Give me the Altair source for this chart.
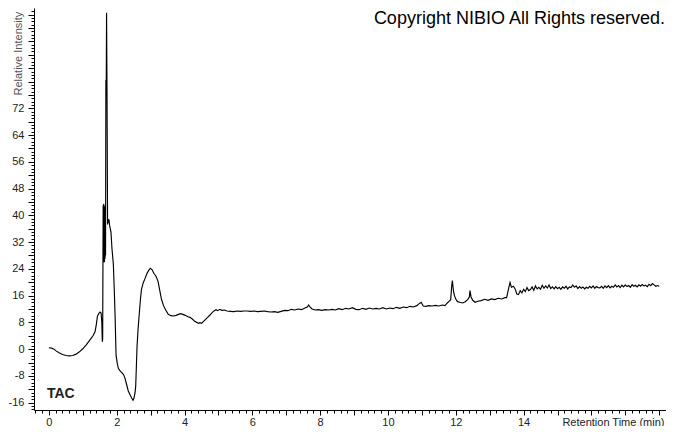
import altair as alt
import pandas as pd

# ---- data (retention time [min], relative intensity) ----
TRACE_START = [
    (0.00, 0.4), (0.08, 0.3), (0.15, 0.0), (0.22, -0.6), (0.30, -1.1), (0.40, -1.6),
    (0.50, -1.9), (0.60, -2.0), (0.70, -1.9), (0.80, -1.5), (0.90, -0.8), (1.00, 0.1),
    (1.10, 1.3), (1.20, 2.6), (1.30, 4.0), (1.36, 5.2), (1.40, 7.5), (1.43, 9.8),
    (1.47, 10.6), (1.51, 11.1), (1.54, 10.8), (1.56, 8.0), (1.575, 2.2), (1.585, 3.0),
]
TRACE_MAIN_PEAK = [
    (1.600, 43.0), (1.610, 26.0), (1.615, 43.5), (1.625, 26.5), (1.630, 43.0),
    (1.640, 26.0), (1.645, 42.5), (1.655, 27.0), (1.660, 41.0), (1.670, 28.0),
    (1.680, 80.5), (1.690, 76.0), (1.700, 100.6), (1.715, 73.5), (1.730, 37.3),
    (1.745, 39.0), (1.760, 37.8), (1.770, 38.8), (1.790, 37.0), (1.830, 35.0),
    (1.860, 30.0), (1.900, 25.5), (1.930, 17.0), (1.950, 10.5), (1.980, -1.8),
    (2.02, -4.5), (2.05, -5.8), (2.10, -6.5), (2.15, -7.0), (2.20, -7.6), (2.24, -8.6),
    (2.29, -10.5), (2.34, -12.5), (2.40, -13.8), (2.44, -14.6), (2.48, -15.3),
    (2.51, -14.6), (2.54, -13.0), (2.56, -11.0), (2.58, -5.0), (2.60, 1.0),
    (2.63, 6.0), (2.66, 10.0), (2.70, 15.0), (2.73, 17.9), (2.78, 19.8), (2.83, 21.0),
    (2.90, 22.8), (2.96, 23.8), (2.99, 24.2), (3.04, 23.8), (3.10, 22.6), (3.16, 21.8),
    (3.22, 20.2), (3.27, 17.5), (3.32, 14.9), (3.38, 13.0), (3.44, 11.8), (3.52, 10.4),
]
TRACE_SETTLE = [
    (3.60, 10.0), (3.67, 9.9), (3.75, 10.1), (3.82, 10.4), (3.88, 10.6), (3.95, 10.4),
    (4.02, 10.1), (4.10, 9.7), (4.16, 9.5), (4.23, 9.0), (4.30, 8.3), (4.36, 8.0),
    (4.41, 7.7), (4.45, 7.9), (4.50, 7.7), (4.56, 8.3), (4.62, 8.9), (4.68, 9.5),
    (4.75, 10.2), (4.82, 11.0), (4.88, 11.5), (4.93, 11.8), (4.98, 11.5), (5.04, 11.9),
    (5.10, 11.6), (5.18, 11.7), (5.25, 11.4), (5.35, 11.3), (5.45, 11.2), (5.55, 11.4),
    (5.65, 11.3), (5.75, 11.4), (5.85, 11.4), (5.95, 11.3), (6.05, 11.4), (6.15, 11.2),
    (6.25, 11.3), (6.35, 11.4), (6.45, 11.2), (6.55, 11.1), (6.65, 11.2), (6.75, 11.0),
    (6.85, 11.3), (6.95, 11.6), (7.05, 11.5), (7.15, 11.9), (7.25, 11.7), (7.35, 12.0),
    (7.45, 11.8), (7.55, 12.3), (7.62, 12.6), (7.66, 13.2), (7.70, 12.6), (7.76, 12.0),
    (7.85, 11.7), (7.95, 11.8), (8.05, 11.6), (8.15, 11.8), (8.25, 11.7), (8.35, 11.9),
    (8.45, 11.7), (8.55, 12.1), (8.65, 11.8), (8.75, 12.2), (8.85, 12.0), (8.95, 12.4),
    (9.05, 11.9), (9.15, 11.8), (9.25, 12.2), (9.35, 11.9), (9.45, 12.3), (9.55, 12.0),
    (9.65, 12.2), (9.75, 12.0), (9.85, 12.4), (9.95, 12.0), (10.05, 12.3), (10.15, 12.1),
    (10.25, 12.5), (10.35, 12.2), (10.45, 12.6), (10.55, 12.4), (10.65, 12.8),
    (10.75, 12.6), (10.85, 13.0), (10.92, 13.6), (10.98, 14.0), (11.04, 12.9),
    (11.12, 12.8), (11.20, 13.0), (11.30, 12.9), (11.40, 13.1), (11.50, 12.9),
    (11.60, 13.2), (11.68, 13.0),
]
TRACE_LATE = [
    (11.75, 13.8), (11.80, 14.3), (11.85, 14.8), (11.88, 19.0), (11.90, 20.5),
    (11.93, 17.5), (11.96, 16.0), (12.00, 15.0), (12.05, 14.2), (12.12, 14.0),
    (12.20, 13.8), (12.28, 14.2), (12.35, 14.8), (12.40, 15.6), (12.42, 17.5),
    (12.45, 15.6), (12.50, 14.6), (12.57, 14.0), (12.65, 14.3), (12.75, 14.5),
    (12.85, 14.9), (12.95, 14.6), (13.05, 15.0), (13.15, 14.8), (13.25, 15.2),
    (13.35, 15.0), (13.45, 15.4), (13.50, 15.4), (13.55, 17.8), (13.60, 19.9),
    (13.64, 18.5), (13.70, 18.8), (13.75, 18.0), (13.80, 16.5), (13.85, 16.3),
    (13.90, 17.5), (13.95, 16.8), (14.00, 17.9), (14.05, 17.2), (14.10, 18.4),
    (14.15, 17.5), (14.20, 17.8), (14.25, 18.6), (14.30, 17.6), (14.35, 18.9),
    (14.40, 18.0), (14.45, 18.5), (14.50, 17.9), (14.55, 19.1), (14.60, 18.2),
    (14.65, 18.9), (14.70, 18.3), (14.75, 19.2), (14.80, 18.1), (14.85, 18.6),
    (14.90, 18.0), (14.95, 18.7), (15.00, 18.1), (15.05, 18.5), (15.10, 17.9),
    (15.15, 18.6), (15.20, 18.2), (15.25, 18.8), (15.30, 18.0), (15.35, 18.6),
    (15.40, 18.4), (15.45, 19.2), (15.50, 18.5), (15.55, 18.9), (15.60, 18.1),
    (15.65, 18.7), (15.70, 18.2), (15.75, 18.6), (15.80, 18.0), (15.85, 18.5),
    (15.90, 18.2), (15.95, 18.8), (16.00, 18.3), (16.05, 18.9), (16.10, 18.2),
    (16.15, 18.7), (16.20, 18.4), (16.25, 18.3), (16.30, 18.8), (16.35, 18.2),
    (16.40, 18.9), (16.45, 18.4), (16.50, 19.0), (16.55, 18.3), (16.60, 18.8),
    (16.65, 18.5), (16.70, 19.2), (16.75, 18.6), (16.80, 19.0), (16.85, 18.4),
    (16.90, 19.1), (16.95, 18.6), (17.00, 19.2), (17.05, 18.7), (17.10, 19.0),
    (17.15, 18.5), (17.20, 19.3), (17.25, 18.8), (17.30, 19.1), (17.35, 18.6),
    (17.40, 19.2), (17.45, 18.8), (17.50, 19.3), (17.55, 18.9), (17.60, 19.1),
    (17.65, 18.7), (17.70, 19.4), (17.75, 19.0), (17.80, 19.6), (17.85, 19.2),
    (17.90, 18.8), (17.95, 19.0), (18.00, 18.8),
]

X_DOMAIN = [-0.44, 18.2]
Y_DOMAIN = [-18.2, 102]
X_TICKS = [round(-0.4 + 0.2 * i, 1) for i in range(94)]   # minor every 0.2 min
Y_TICKS = list(range(-18, 102))                           # minor every 1 unit
X_LABELS = [0, 2, 4, 6, 8, 10, 12, 14]
Y_LABELS = [-16, -8, 0, 8, 16, 24, 32, 40, 48, 56, 64, 72]
X_TITLE = "Retention Time (min)"
Y_TITLE = "Relative Intensity"
TRACE_NAME = ["TAC"]
COPYRIGHT = ["Copyright NIBIO All Rights reserved."]

rows = TRACE_START + TRACE_MAIN_PEAK + TRACE_SETTLE + TRACE_LATE
df = pd.DataFrame(rows, columns=["rt", "ri"])

FONT = "Liberation Sans"
W, H = 632, 402

x_axis = alt.Axis(
    values=X_TICKS,
    labelExpr="indexof(%s, datum.value) >= 0 ? '' + datum.value : ''" % X_LABELS,
    tickSize={"condition": {"test": "datum.value % 1 === 0", "value": 5}, "value": 3},
    tickColor="black", domainColor="black", domainWidth=1, tickWidth=1,
    labelColor="#222", labelFont=FONT, labelFontSize=11, labelPadding=1,
    labelOverlap=False, labelFlush=False, grid=False,
    title=X_TITLE, titleFont=FONT, titleFontSize=11, titleFontWeight="normal",
    titleColor="#222", titleX=W - 2, titleY=6, titleAlign="right", titleBaseline="top",
)
y_axis = alt.Axis(
    values=Y_TICKS,
    labelExpr="indexof(%s, datum.value) >= 0 ? '' + datum.value : ''" % Y_LABELS,
    tickSize={"condition": {"test": "datum.value % 4 === 0", "value": 6}, "value": 3},
    tickColor="black", domainColor="black", domainWidth=1, tickWidth=1,
    labelColor="#222", labelFont=FONT, labelFontSize=11, labelPadding=4,
    labelOverlap=False, labelFlush=False, grid=False,
    title=Y_TITLE, titleFont=FONT, titleFontSize=11, titleFontWeight="normal",
    titleColor="#555", titleAngle=270, titleX=-16, titleY=87,
    titleAlign="left", titleBaseline="middle",
)

line = alt.Chart(df).mark_line(color="black", strokeWidth=1.15, clip=True).encode(
    x=alt.X("rt:Q", scale=alt.Scale(domain=X_DOMAIN, nice=False, zero=False), axis=x_axis),
    y=alt.Y("ri:Q", scale=alt.Scale(domain=Y_DOMAIN, nice=False, zero=False), axis=y_axis),
)

copyright_text = alt.Chart(pd.DataFrame({"label": COPYRIGHT})).mark_text(
    align="right", baseline="alphabetic", font=FONT, fontSize=18, color="black"
).encode(text="label:N", x=alt.value(W - 1), y=alt.value(16))

tac_text = alt.Chart(pd.DataFrame({"label": TRACE_NAME})).mark_text(
    align="left", baseline="alphabetic", font=FONT, fontSize=14, fontWeight="bold", color="#222"
).encode(text="label:N", x=alt.value(13), y=alt.value(390))

chart = (
    alt.layer(line, copyright_text, tac_text)
    .properties(
        width=W, height=H,
        autosize=alt.AutoSizeParams(type="none"),
        padding={"left": 26, "top": 0, "right": 0, "bottom": 16},
        background="white",
    )
    .configure_view(strokeWidth=0)
)

chart.save("out.html", embed_options={"renderer": "svg", "actions": False})
